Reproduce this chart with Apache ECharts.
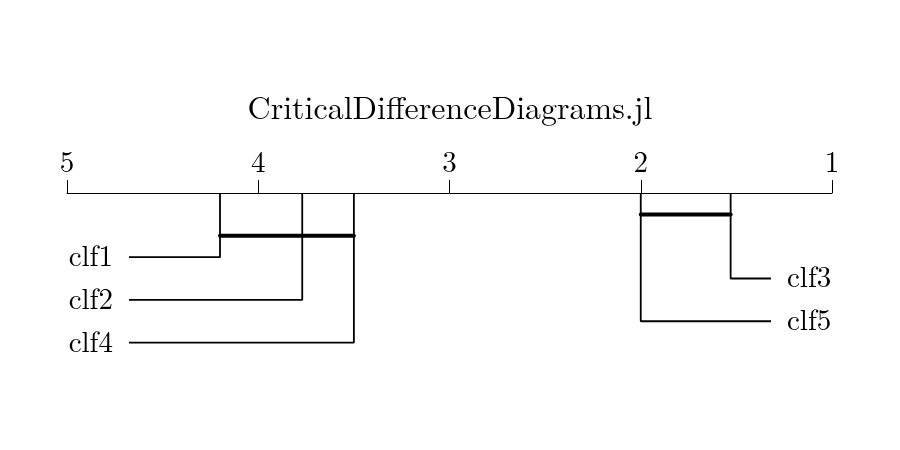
<!DOCTYPE html>
<html>
<head>
<meta charset="utf-8">
<script src="https://cdn.jsdelivr.net/npm/echarts@6/dist/echarts.min.js"></script>
<style>
  html, body { margin: 0; padding: 0; background: #fff; }
  #chart { width: 900px; height: 450px; }
</style>
</head>
<body>
<div id="chart"></div>
<script>
// classifiers and their average ranks
const names = ['clf1', 'clf2', 'clf4', 'clf3', 'clf5']
const ranks = [4.2, 3.77, 3.5, 1.53, 2.0]
// which side the label sits on, and the row it is drawn at
const sides = ['left', 'left', 'left', 'right', 'right']
const rows = [1.5, 2.5, 3.5, 2, 3]
// groups with no significant difference: [from rank, to rank, row]
const cliques = [
  [4.2, 3.5, 1],
  [2.0, 1.53, 0.5],
]
const tickLabels = ['1', '2', '3', '4', '5']
const title = 'CriticalDifferenceDiagrams.jl'

// where the label leads end, in rank units
const leftEnd = 4.676
const rightEnd = 1.319

const font = 'Latin Modern Roman, "DejaVu Serif", serif'

const chart = echarts.init(document.getElementById('chart'))

const series = []

names.forEach((name, i) => {
  const end = sides[i] === 'left' ? leftEnd : rightEnd
  series.push({
    type: 'line',
    data: [
      [ranks[i], 0],
      [ranks[i], rows[i]],
      [end, rows[i]],
    ],
    symbol: 'none',
    lineStyle: { color: '#000', width: 1.8 },
    silent: true,
    z: 2,
  })
  // label sits just past the end of the lead line
  series.push({
    type: 'scatter',
    data: [[end, rows[i]]],
    symbolSize: 0,
    itemStyle: { opacity: 1, color: '#000' },
    label: {
      show: true,
      position: sides[i],
      distance: 16,
      formatter: name,
      color: '#000',
      opacity: 1,
      fontFamily: font,
      fontSize: 29,
    },
    silent: true,
  })
})

cliques.forEach((c) => {
  series.push({
    type: 'line',
    data: [
      [c[0], c[2]],
      [c[1], c[2]],
    ],
    symbol: 'none',
    lineStyle: { color: '#000', width: 4, cap: 'round' },
    silent: true,
    z: 3,
  })
})

chart.setOption({
  animation: false,
  backgroundColor: '#fff',
  title: {
    text: title,
    left: 'center',
    top: 88,
    textStyle: {
      color: '#000',
      fontFamily: font,
      fontWeight: 'normal',
      fontSize: 32,
    },
  },
  grid: {
    left: 67,
    right: 68,
    top: 193,
    height: 171,
  },
  xAxis: {
    type: 'value',
    min: 1,
    max: 5,
    interval: 1,
    inverse: true,
    position: 'top',
    splitLine: { show: false },
    axisLine: { show: true, lineStyle: { color: '#000', width: 1 } },
    axisTick: { show: true, length: 13, lineStyle: { color: '#000', width: 1 } },
    axisLabel: {
      margin: 15,
      color: '#000',
      fontFamily: font,
      fontSize: 29,
      formatter: (v) => tickLabels[v - 1],
    },
  },
  yAxis: {
    type: 'value',
    min: 0,
    max: 4,
    inverse: true,
    show: false,
  },
  series,
})
</script>
</body>
</html>
